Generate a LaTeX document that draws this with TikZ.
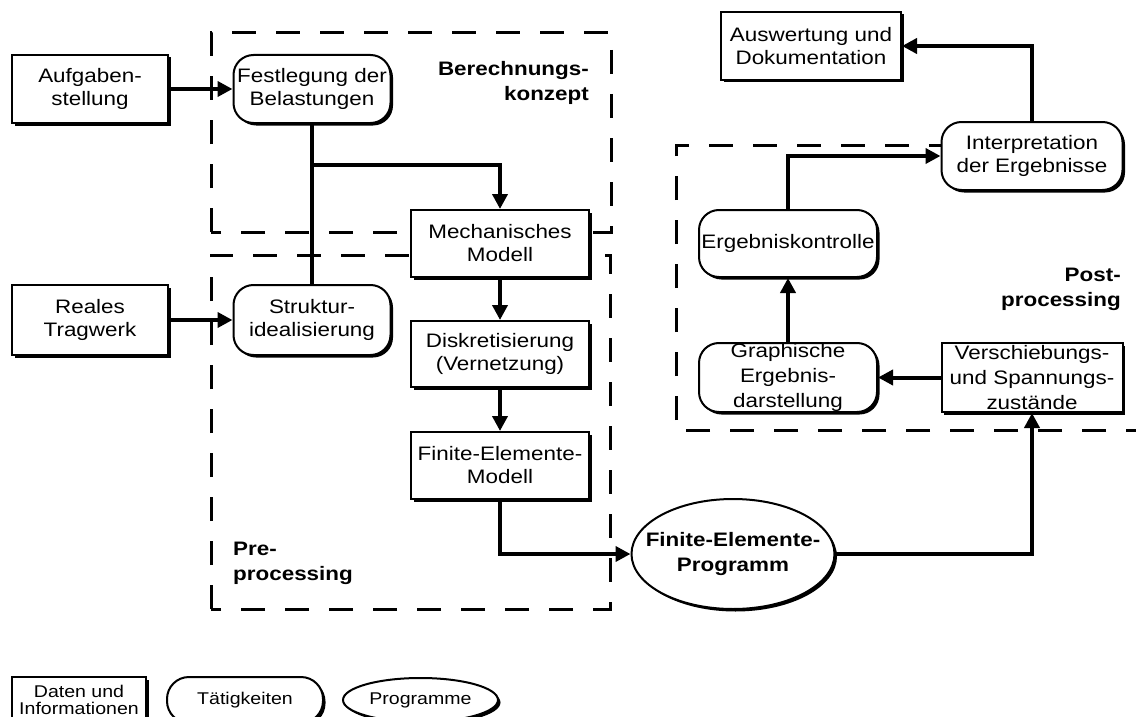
\documentclass[tikz,border=0pt]{standalone}
\usepackage{fontspec}
\setmainfont{Liberation Sans}[FakeStretch=1.15]
\usetikzlibrary{arrows.meta,shadows,shapes.geometric}
\begin{document}
\begin{tikzpicture}[x=1pt,y=-1pt,
  font=\fontsize{19.5}{23}\selectfont,
  shad/.style={drop shadow={shadow xshift=2.5pt,shadow yshift=-2.5pt,fill=black,opacity=1}},
  databox/.style={draw,line width=2pt,fill=white,shad,align=center,inner sep=0pt},
  actbox/.style={databox,rounded corners=20pt},
  progbox/.style={ellipse,draw,line width=2pt,fill=white,shad,align=center,inner sep=0pt},
  arr/.style={line width=4pt,-{Triangle[length=15pt,width=15pt]}},
  conn/.style={line width=4pt},
  region/.style={line width=3pt,dash pattern=on 24pt off 20pt},
  lbl/.style={font=\fontsize{19.5}{25}\selectfont\bfseries,inner sep=0pt},
  small/.style={font=\fontsize{17}{17}\selectfont}]
\useasboundingbox (0,0) rectangle (1136,717);

% regions
\draw[region] (211,232) -- (211,33) -- (611,33) -- (611,232) -- cycle;
\draw[region] (211,609) -- (211,255) -- (610,255) -- (610,609) -- cycle;
\draw[region] (1150,430) -- (676,430) -- (676,145) -- (942,145);

\node[lbl,anchor=east,align=right] (lberech) at (589,82.5) {Berechnungs-\\konzept};
\node[lbl,anchor=west,align=left] (lpre) at (233,563) {Pre-\\processing};
\node[lbl,anchor=east,align=right] (lpost) at (1121,289.5) {Post-\\processing};

% nodes
\node[databox,minimum width=156pt,minimum height=68pt] (aufg) at (90,89) {Aufgaben-\\stellung};
\node[actbox,minimum width=157pt,minimum height=68pt] (fest) at (312,89) {Festlegung der\\Belastungen};
\node[databox,minimum width=178pt,minimum height=67pt] (mech) at (500,243.5) {Mechanisches\\Modell};
\node[databox,minimum width=156pt,minimum height=70pt] (reales) at (90,320) {Reales\\Tragwerk};
\node[actbox,minimum width=157pt,minimum height=70pt] (strukt) at (312,320) {Struktur-\\idealisierung};
\node[databox,minimum width=178pt,minimum height=66pt] (disk) at (500,354) {Diskretisierung\\(Vernetzung)};
\node[databox,minimum width=178pt,minimum height=67pt] (fem) at (500,465.5) {Finite-Elemente-\\Modell};
\node[progbox,minimum width=203pt,minimum height=110pt] (fep) at (733,554) {};
\node[lbl,align=center] (feptxt) at (fep.center) {Finite-Elemente-\\Programm};
\node[databox,minimum width=180pt,minimum height=68pt] (ausw) at (811,46) {Auswertung und\\Dokumentation};
\node[actbox,minimum width=181pt,minimum height=68pt] (interp) at (1032,156) {Interpretation\\der Ergebnisse};
\node[actbox,minimum width=178pt,minimum height=67pt] (ergk) at (788,243.5) {Ergebniskontrolle};
\node[actbox,minimum width=178pt,minimum height=69pt,font=\fontsize{19.5}{25}\selectfont] (graph) at (788,377.5) {Graphische\\Ergebnis-\\darstellung};
\node[databox,minimum width=181pt,minimum height=69pt,font=\fontsize{19.5}{25}\selectfont] (versch) at (1032,377.5) {Verschiebungs-\\und Spannungs-\\zustände};

% legend
\node[databox,small,minimum width=134pt,minimum height=46pt] (daten) at (79,700) {Daten und\\Informationen};
\node[actbox,small,minimum width=156pt,minimum height=46pt,rounded corners=22pt] (taet) at (245,700) {Tätigkeiten};
\node[progbox,minimum width=155pt,minimum height=44pt] (prog) at (420.5,700) {};
\node[small] (progtxt) at (prog.center) {Programme};

% connectors
\coordinate (j) at (312,165);
\draw[arr] (aufg.east) -- (fest.west);
\draw[arr] (reales.east) -- (strukt.west);
\draw[arr] (fest.south) -- (j) -| (mech.north);
\draw[conn] (j) -- (strukt.north);
\draw[arr] (mech.south) -- (disk.north);
\draw[arr] (disk.south) -- (fem.north);
\draw[arr] (fem.south) |- (fep.west);
\draw[arr] (fep.east) -| (versch.south);
\draw[arr] (versch.west) -- (graph.east);
\draw[arr] (graph.north) -- (ergk.south);
\draw[arr] (ergk.north) |- (interp.west);
\draw[arr] (interp.north) |- (ausw.east);
\end{tikzpicture}
\end{document}
